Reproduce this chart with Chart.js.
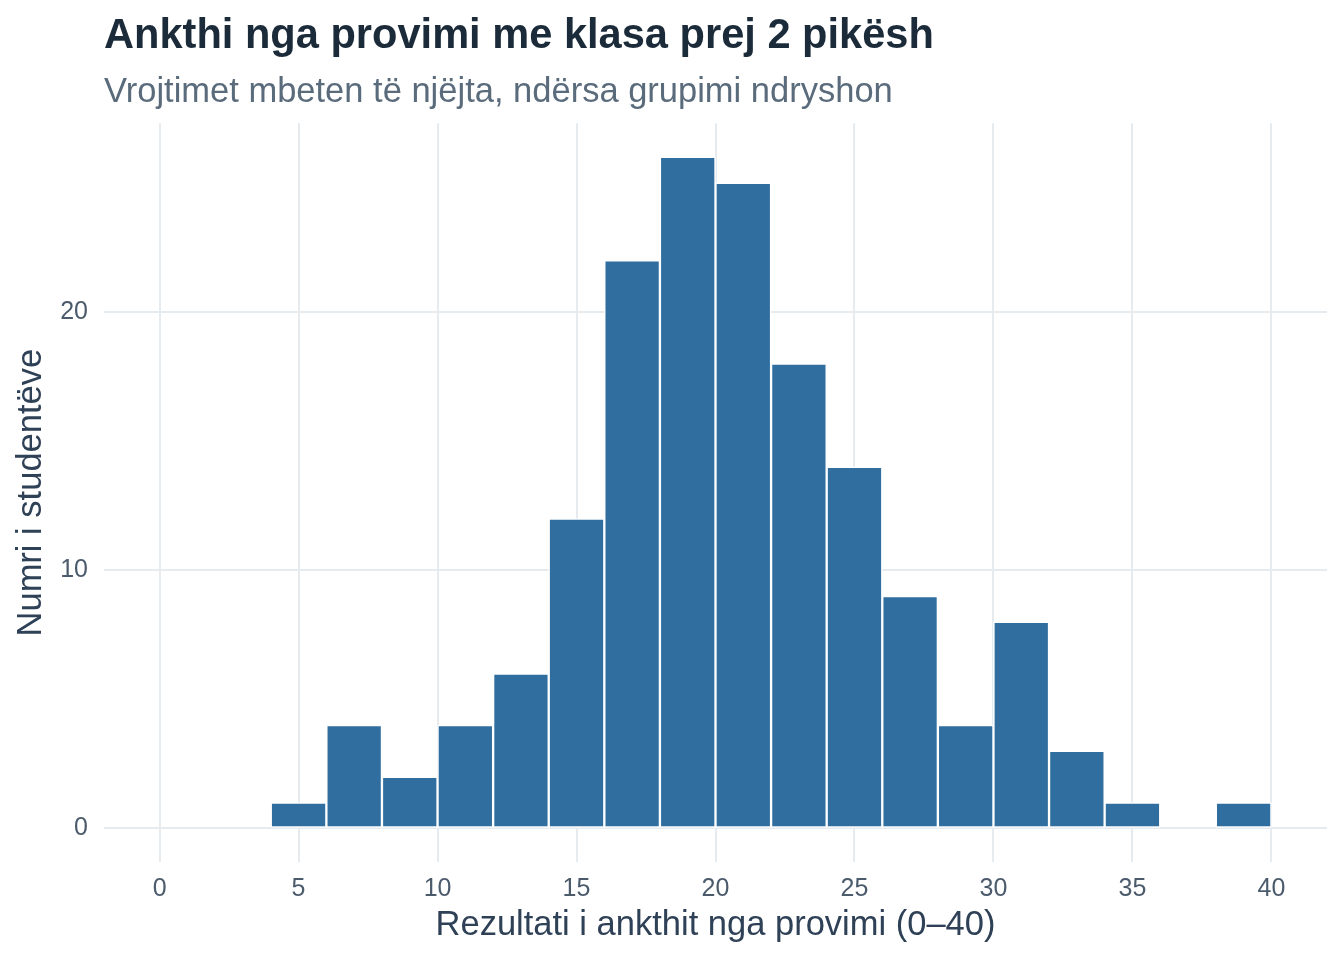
<!DOCTYPE html>
<html>
<head>
<meta charset="utf-8">
<script src="https://cdn.jsdelivr.net/npm/chart.js@4.4.1/dist/chart.umd.min.js"></script>
<style>
  html, body { margin: 0; padding: 0; background: #ffffff; }
  #wrap { width: 1344px; height: 960px; position: relative; }
</style>
</head>
<body>
<div id="wrap"><canvas id="c"></canvas></div>
<script>
const titleText = "Ankthi nga provimi me klasa prej 2 pikësh";
const subtitleText = "Vrojtimet mbeten të njëjta, ndërsa grupimi ndryshon";
const xAxisTitle = "Rezultati i ankthit nga provimi (0–40)";
const yAxisTitle = "Numri i studentëve";

const binWidth = 2;
const binStarts = [0, 2, 4, 6, 8, 10, 12, 14, 16, 18, 20, 22, 24, 26, 28, 30, 32, 34, 36, 38];
const counts    = [0, 0, 1, 4, 2, 4, 6, 12, 22, 26, 25, 18, 14, 9, 4, 8, 3, 1, 0, 1];

const xTicks = [0, 5, 10, 15, 20, 25, 30, 35, 40];
const yTicks = [0, 10, 20];

const barColor = "#2f6e9e";
const gridColor = "#e6ebf0";
const tickColor = "#4b5b6c";
const axisTitleColor = "#2f4156";
const FONT = "'Liberation Sans', Arial, Helvetica, sans-serif";

const points = binStarts.map((s, i) => ({ x: s + binWidth / 2, y: counts[i] }));

new Chart(document.getElementById('c'), {
  type: 'bar',
  data: {
    datasets: [{
      data: points,
      backgroundColor: barColor,
      borderColor: '#ffffff',
      borderWidth: 1.5,
      borderSkipped: false,
      barPercentage: 1,
      categoryPercentage: 1
    }]
  },
  options: {
    responsive: true,
    maintainAspectRatio: false,
    animation: false,
    layout: { padding: { left: 11, right: 17, top: 0, bottom: 14 } },
    plugins: {
      legend: { display: false },
      tooltip: { enabled: false },
      title: {
        display: true,
        text: titleText,
        align: 'start',
        fullSize: false,
        color: '#1b2b3a',
        font: { family: FONT, size: 41.6, weight: 'bold' },
        padding: { top: 12, bottom: 10 }
      },
      subtitle: {
        display: true,
        text: subtitleText,
        align: 'start',
        fullSize: false,
        color: '#5a6b7c',
        font: { family: FONT, size: 34.5 },
        padding: { top: 0, bottom: 10 }
      }
    },
    scales: {
      x: {
        type: 'linear',
        min: -2,
        max: 42,
        offset: false,
        afterBuildTicks: (s) => { s.ticks = xTicks.map(v => ({ value: v })); },
        afterFit: (s) => { s.height = 84; },
        ticks: { color: tickColor, font: { family: FONT, size: 25 }, padding: 12, autoSkip: false, maxRotation: 0 },
        grid: { color: gridColor, lineWidth: 2, drawTicks: false, offset: false },
        border: { display: false },
        title: { display: true, text: xAxisTitle, color: axisTitleColor, font: { family: FONT, size: 34.5 }, padding: { top: 0, bottom: 0 } }
      },
      y: {
        min: -1.3,
        max: 27.3,
        afterBuildTicks: (s) => { s.ticks = yTicks.map(v => ({ value: v })); },
        afterFit: (s) => { s.width = 93; },
        ticks: { color: tickColor, font: { family: FONT, size: 25 }, padding: 16 },
        grid: { color: gridColor, lineWidth: 2, drawTicks: false },
        border: { display: false },
        title: { display: true, text: yAxisTitle, color: axisTitleColor, font: { family: FONT, size: 34.5 }, padding: { top: 0, bottom: 0 } }
      }
    }
  }
});
</script>
</body>
</html>
